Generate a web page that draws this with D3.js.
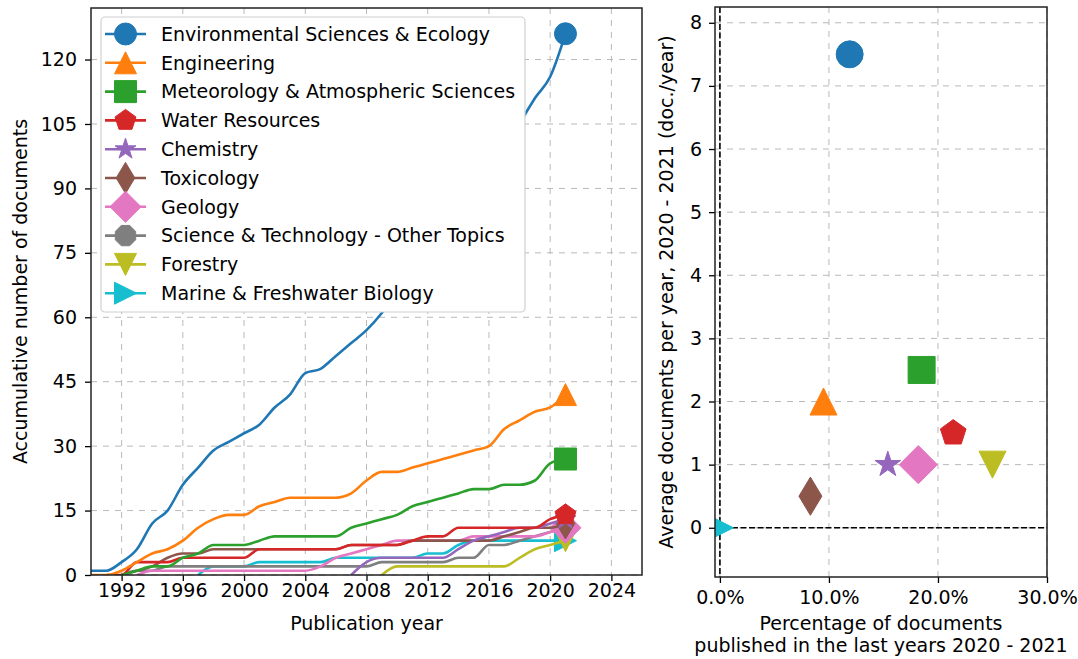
<!DOCTYPE html>
<html>
<head>
<meta charset="utf-8">
<script src="https://cdn.jsdelivr.net/npm/d3@7"></script>
<style>
  body { margin: 0; background: #fff; }
  svg { font-family: "DejaVu Sans", sans-serif; }
</style>
</head>
<body>
<svg id="chart" width="1078" height="659"></svg>
<script>
// ---- data -------------------------------------------------------------
const categories = [
  "Environmental Sciences & Ecology",
  "Engineering",
  "Meteorology & Atmospheric Sciences",
  "Water Resources",
  "Chemistry",
  "Toxicology",
  "Geology",
  "Science & Technology - Other Topics",
  "Forestry",
  "Marine & Freshwater Biology"
];
const colors = ["#1f77b4", "#ff7f0e", "#2ca02c", "#d62728", "#9467bd",
                "#8c564b", "#e377c2", "#7f7f7f", "#bcbd22", "#17becf"];
const markers = ["o", "^", "s", "p", "*", "d", "D", "8", "v", ">"];

// first publication year of each cumulative series
const startYears = [1990, 1990, 1992, 1991, 2007, 1992, 1993, 1992, 2009, 1997];

// accumulative number of documents, one value per year from the start year to 2021
const envEcology  = [1, 1, 3, 6, 12, 15, 21, 25, 29, 31, 33, 35, 39, 42, 47, 48, 51, 54, 57, 61,
                     66, 70, 75, 79, 83, 88, 92, 98, 105, 111, 116, 126];
const engineering = [0, 0, 1, 3, 5, 6, 8, 11, 13, 14, 14, 16, 17, 18, 18, 18, 18, 19, 22, 24,
                     24, 25, 26, 27, 28, 29, 30, 34, 36, 38, 39, 42];
const meteorology = [0, 1, 2, 2, 4, 5, 7, 7, 7, 8, 9, 9, 9, 9, 9, 11, 12, 13, 14, 16,
                     17, 18, 19, 20, 20, 21, 21, 22, 26, 27];
const waterRes    = [0, 0, 3, 3, 3, 4, 4, 4, 4, 4, 6, 6, 6, 6, 6, 6, 7, 7, 7, 7,
                     8, 9, 9, 11, 11, 11, 11, 11, 11, 13, 14];
const chemistry   = [0, 3, 4, 4, 4, 4, 4, 6, 8, 9, 10, 11, 11, 12, 13];
const toxicology  = [0, 1, 2, 4, 5, 5, 6, 6, 6, 6, 6, 6, 6, 6, 6, 7, 7, 7, 7, 8,
                     8, 8, 8, 8, 8, 9, 10, 11, 11, 12];
const geology     = [0, 1, 1, 1, 1, 1, 1, 1, 1, 1, 1, 1, 2, 4, 5, 6, 7, 8, 8, 8,
                     8, 8, 9, 9, 9, 9, 9, 10, 11];
const sciTechOther= [0, 1, 1, 2, 2, 2, 2, 2, 2, 2, 2, 2, 2, 2, 2, 2, 2, 3, 3, 3,
                     3, 3, 4, 4, 7, 7, 8, 9, 10, 11];
const forestry    = [0, 2, 2, 2, 2, 2, 2, 2, 2, 4, 6, 7, 8];
const marineBio   = [0, 2, 2, 2, 3, 3, 3, 3, 3, 4, 4, 4, 4, 4, 4, 5, 5, 7, 8, 8,
                     8, 8, 8, 8, 8];
const cumulative = [envEcology, engineering, meteorology, waterRes, chemistry,
                    toxicology, geology, sciTechOther, forestry, marineBio];

// share of documents from 2020 - 2021 and yearly rate over those two years
const recentShare = [0.119, 0.095, 0.185, 0.214, 0.154, 0.083, 0.182, 0.182, 0.250, 0.0];
const recentRate  = [7.5, 2.0, 2.5, 1.5, 1.0, 0.5, 1.0, 1.0, 1.0, 0.0];

const yearTicks  = [1992, 1996, 2000, 2004, 2008, 2012, 2016, 2020, 2024];
const countTicks = [0, 15, 30, 45, 60, 75, 90, 105, 120];
const shareTicks = [0, 0.1, 0.2, 0.3];
const rateTicks  = [0, 1, 2, 3, 4, 5, 6, 7, 8];

// ---- helpers ----------------------------------------------------------
const FONT = 19;
function poly(pts) {
  return "M" + pts.map(p => p[0].toFixed(2) + "," + p[1].toFixed(2)).join("L") + "Z";
}
function regular(n, r, rot) {
  const pts = [];
  for (let k = 0; k < n; k++) {
    const a = (rot + k * 360 / n - 90) * Math.PI / 180;
    pts.push([r * Math.cos(a), r * Math.sin(a)]);
  }
  return pts;
}
// marker outline with matplotlib-like proportions, ms = marker size in px
function markerPath(type, ms) {
  const r = ms / 2;
  const a = ms / Math.SQRT2;
  switch (type) {
    case "o": { const p = d3.path(); p.arc(0, 0, r, 0, 2 * Math.PI); p.closePath(); return p.toString(); }
    case "^": return poly([[0, -r], [r, r], [-r, r]]);
    case "v": return poly([[0, r], [r, -r], [-r, -r]]);
    case ">": return poly([[r, 0], [-r, r], [-r, -r]]);
    case "s": return poly([[-r, -r], [r, -r], [r, r], [-r, r]]);
    case "D": return poly([[0, -a], [a, 0], [0, a], [-a, 0]]);
    case "d": return poly([[0, -a], [0.6 * a, 0], [0, a], [-0.6 * a, 0]]);
    case "p": return poly(regular(5, r, 0));
    case "8": return poly(regular(8, r, 22.5));
    case "*": {
      const pts = [];
      for (let k = 0; k < 10; k++) {
        const rr = k % 2 === 0 ? r : r * 0.381966;
        const ang = (k * 36 - 90) * Math.PI / 180;
        pts.push([rr * Math.cos(ang), rr * Math.sin(ang)]);
      }
      return poly(pts);
    }
  }
}

const svg = d3.select("#chart");
svg.append("rect").attr("width", 1078).attr("height", 659).attr("fill", "#fff");

function styleAxis(g) {
  g.selectAll("path.domain").remove();
  g.selectAll(".tick line").attr("stroke", "#000").attr("stroke-width", 1.3);
  g.selectAll(".tick text").attr("fill", "#000").style("font-size", FONT + "px")
    .style("font-family", "DejaVu Sans, sans-serif");
}

// draw order puts the last listed category underneath
const drawOrder = d3.range(categories.length).reverse();

// ---- left panel: accumulative documents per year ----------------------
const L = { left: 91, right: 642, top: 8, bottom: 575 };
const xL = d3.scaleLinear().domain([1990, 2026]).range([L.left, L.right]);
const yL = d3.scaleLinear().domain([0, 132]).range([L.bottom, L.top]);

svg.append("defs").append("clipPath").attr("id", "clipL")
  .append("rect").attr("x", L.left).attr("y", L.top)
  .attr("width", L.right - L.left).attr("height", L.bottom - L.top);

const gridL = svg.append("g").attr("stroke", "#b9b9b9").attr("stroke-width", 1)
  .attr("stroke-dasharray", "6,6");
gridL.selectAll("line.vx").data(yearTicks).join("line")
  .attr("x1", d => xL(d)).attr("x2", d => xL(d)).attr("y1", L.top).attr("y2", L.bottom);
gridL.selectAll("line.hy").data(countTicks).join("line")
  .attr("y1", d => yL(d)).attr("y2", d => yL(d)).attr("x1", L.left).attr("x2", L.right);

const lineGen = d3.line().x(d => xL(d[0])).y(d => yL(d[1])).curve(d3.curveMonotoneX);
const plotL = svg.append("g").attr("clip-path", "url(#clipL)");
drawOrder.forEach(i => {
  const pts = cumulative[i].map((v, k) => [startYears[i] + k, v]);
  plotL.append("path").attr("d", lineGen(pts)).attr("fill", "none")
    .attr("stroke", colors[i]).attr("stroke-width", 2.6).attr("stroke-linejoin", "round");
  const last = pts[pts.length - 1];
  plotL.append("path").attr("d", markerPath(markers[i], 22))
    .attr("transform", `translate(${xL(last[0])},${yL(last[1])})`)
    .attr("fill", colors[i]).attr("stroke", colors[i]).attr("stroke-width", 1);
});

svg.append("g").attr("transform", `translate(0,${L.bottom})`)
  .call(d3.axisBottom(xL).tickValues(yearTicks).tickFormat(d3.format("d")).tickSize(6).tickPadding(3))
  .call(styleAxis);
svg.append("g").attr("transform", `translate(${L.left},0)`)
  .call(d3.axisLeft(yL).tickValues(countTicks).tickSize(6).tickPadding(8))
  .call(styleAxis);
svg.append("rect").attr("x", L.left).attr("y", L.top)
  .attr("width", L.right - L.left).attr("height", L.bottom - L.top)
  .attr("fill", "none").attr("stroke", "#222").attr("stroke-width", 1.5);

// legend (opaque box over the lines)
const leg = svg.append("g");
leg.append("rect").attr("x", 101).attr("y", 17).attr("width", 424).attr("height", 295)
  .attr("rx", 4).attr("fill", "#fff")
  .attr("stroke", "#d0d0d0").attr("stroke-width", 1.2);
categories.forEach((name, i) => {
  const y = 34 + i * 28.8;
  const row = leg.append("g").attr("transform", `translate(0,${y})`);
  row.append("line").attr("x1", 105).attr("x2", 146).attr("y1", 0).attr("y2", 0)
    .attr("stroke", colors[i]).attr("stroke-width", 2.6);
  row.append("path").attr("d", markerPath(markers[i], 22))
    .attr("transform", "translate(125.5,0)")
    .attr("fill", colors[i]).attr("stroke", colors[i]).attr("stroke-width", 1);
  row.append("text").attr("x", 161).attr("y", 0).attr("dy", "0.36em")
    .style("font-size", FONT + "px").attr("fill", "#000").text(name);
});

svg.append("text").attr("x", (L.left + L.right) / 2).attr("y", 630)
  .attr("text-anchor", "middle").style("font-size", FONT + "px").text("Publication year");
svg.append("text").attr("transform", `translate(27,${(L.top + L.bottom) / 2}) rotate(-90)`)
  .attr("text-anchor", "middle").style("font-size", FONT + "px")
  .text("Accumulative number of documents");

// ---- right panel: recent share vs. recent yearly rate -----------------
const R = { left: 715, right: 1047, top: 7, bottom: 577 };
const xR = d3.scaleLinear().domain([-0.0045, 0.30]).range([R.left, R.right]);
const yR = d3.scaleLinear().domain([-0.78, 8.25]).range([R.bottom, R.top]);

svg.select("defs").append("clipPath").attr("id", "clipR")
  .append("rect").attr("x", R.left).attr("y", R.top)
  .attr("width", R.right - R.left).attr("height", R.bottom - R.top);

const gridR = svg.append("g").attr("stroke", "#b9b9b9").attr("stroke-width", 1)
  .attr("stroke-dasharray", "6,6");
gridR.selectAll("line.vx").data(shareTicks).join("line")
  .attr("x1", d => xR(d)).attr("x2", d => xR(d)).attr("y1", R.top).attr("y2", R.bottom);
gridR.selectAll("line.hy").data(rateTicks).join("line")
  .attr("y1", d => yR(d)).attr("y2", d => yR(d)).attr("x1", R.left).attr("x2", R.right);

const plotR = svg.append("g").attr("clip-path", "url(#clipR)");
plotR.append("line").attr("x1", xR(0)).attr("x2", xR(0)).attr("y1", R.top).attr("y2", R.bottom)
  .attr("stroke", "#000").attr("stroke-width", 1.6).attr("stroke-dasharray", "6,2.5");
plotR.append("line").attr("y1", yR(0)).attr("y2", yR(0)).attr("x1", R.left).attr("x2", R.right)
  .attr("stroke", "#000").attr("stroke-width", 1.6).attr("stroke-dasharray", "6,2.5");
drawOrder.forEach(i => {
  plotR.append("path").attr("d", markerPath(markers[i], 27))
    .attr("transform", `translate(${xR(recentShare[i])},${yR(recentRate[i])})`)
    .attr("fill", colors[i]).attr("stroke", colors[i]).attr("stroke-width", 1);
});

svg.append("g").attr("transform", `translate(0,${R.bottom})`)
  .call(d3.axisBottom(xR).tickValues(shareTicks).tickFormat(d3.format(".1%")).tickSize(6).tickPadding(8))
  .call(styleAxis);
svg.append("g").attr("transform", `translate(${R.left},0)`)
  .call(d3.axisLeft(yR).tickValues(rateTicks).tickSize(6).tickPadding(7))
  .call(styleAxis);
svg.append("rect").attr("x", R.left).attr("y", R.top)
  .attr("width", R.right - R.left).attr("height", R.bottom - R.top)
  .attr("fill", "none").attr("stroke", "#222").attr("stroke-width", 1.5);

svg.append("text").attr("x", (R.left + R.right) / 2).attr("y", 630)
  .attr("text-anchor", "middle").style("font-size", FONT + "px").text("Percentage of documents");
svg.append("text").attr("x", (R.left + R.right) / 2).attr("y", 652)
  .attr("text-anchor", "middle").style("font-size", FONT + "px")
  .text("published in the last years 2020 - 2021");
svg.append("text").attr("transform", `translate(673,${(R.top + R.bottom) / 2}) rotate(-90)`)
  .attr("text-anchor", "middle").style("font-size", FONT + "px")
  .text("Average documents per year, 2020 - 2021 (doc./year)");
</script>
</body>
</html>
